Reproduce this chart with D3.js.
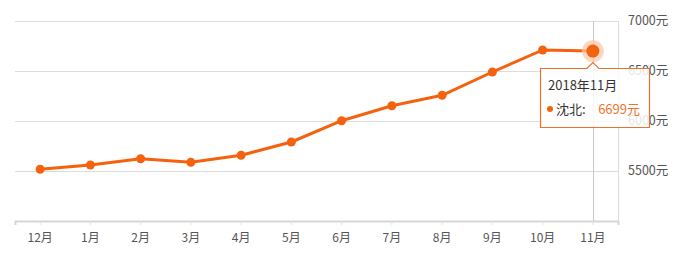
<!DOCTYPE html>
<html>
<head>
<meta charset="utf-8">
<script src="https://cdn.jsdelivr.net/npm/d3@7"></script>
<style>
body{margin:0;background:#fff;font-family:"Noto Sans CJK SC","Microsoft YaHei",sans-serif;}
</style>
</head>
<body>
<div id="chart"></div>
<script>
var months = ["12月","1月","2月","3月","4月","5月","6月","7月","8月","9月","10月","11月"];
var prices = [5517,5560,5623,5587,5657,5790,6003,6153,6257,6490,6710,6699];
var yTicks = [5500,6000,6500,7000];
var tipTitle = "2018年11月";
var tipName = "沈北";

var W = 698, H = 258;
var plotLeft = 15, plotRight = 618, plotTop = 21, plotBottom = 221;
var orange = "#f5620f";

var svg = d3.select("#chart").append("svg")
    .attr("width", W).attr("height", H);

var x = d3.scaleBand().domain(months).range([plotLeft, plotRight]).padding(0);
var y = d3.scaleLinear().domain([5000, 7000]).range([plotBottom, plotTop]);

// grid lines
svg.append("g").selectAll("line").data(yTicks).enter().append("line")
    .attr("x1", plotLeft).attr("x2", plotRight)
    .attr("y1", function(d){return Math.round(y(d))+0.5;})
    .attr("y2", function(d){return Math.round(y(d))+0.5;})
    .style("stroke", "#dcdcdc").style("stroke-width", 1);

// right border
svg.append("line")
    .attr("x1", plotRight+0.5).attr("x2", plotRight+0.5)
    .attr("y1", plotTop).attr("y2", plotBottom)
    .style("stroke", "#dcdcdc");

// y labels
svg.append("g").selectAll("text").data(yTicks).enter().append("text")
    .attr("x", 628).attr("y", function(d){return y(d);})
    .attr("dy", "0.35em")
    .style("font-size", "12.5px").style("fill", "#555")
    .text(function(d){return d + "元";});

// x axis
var xAxis = svg.append("g")
    .attr("transform", "translate(0," + plotBottom + ")")
    .call(d3.axisBottom(x).tickSize(4).tickPadding(8));
xAxis.select(".domain").style("stroke", "#d6d6d6").style("stroke-width", 2);
xAxis.selectAll(".tick line").style("stroke", "#e0e0e0");
xAxis.selectAll(".tick text")
    .style("font-size", "12px").style("fill", "#555")
    .style("font-family", "'Noto Sans CJK SC',sans-serif");

// crosshair
var last = months.length - 1;
var cx = x(months[last]) + x.bandwidth()/2;
svg.append("line")
    .attr("x1", Math.round(cx)+0.5).attr("x2", Math.round(cx)+0.5)
    .attr("y1", plotTop).attr("y2", plotBottom)
    .style("stroke", "#c8c8c8");

var line = d3.line()
    .x(function(d, i){return x(months[i]) + x.bandwidth()/2;})
    .y(function(d){return y(d);});

svg.append("path").datum(prices)
    .attr("d", line)
    .style("fill", "none").style("stroke", orange).style("stroke-width", 3)
    .style("stroke-linejoin", "round");

svg.append("g").selectAll("circle").data(prices).enter().append("circle")
    .attr("cx", function(d, i){return x(months[i]) + x.bandwidth()/2;})
    .attr("cy", function(d){return y(d);})
    .attr("r", 4.5)
    .style("fill", orange);

// highlighted point
svg.append("circle")
    .attr("cx", cx).attr("cy", y(prices[last])).attr("r", 11)
    .style("fill", "#fbc7a6").style("opacity", 0.7);
svg.append("circle")
    .attr("cx", cx).attr("cy", y(prices[last])).attr("r", 6.5)
    .style("fill", orange);

// tooltip
var tx = 540, ty = 68, tw = 109, th = 59;
var tip = svg.append("g");
tip.append("path")
    .attr("d", "M" + (tx+0.5) + "," + (ty+0.5) +
        " L" + (cx-6) + "," + (ty+0.5) +
        " L" + cx + "," + (ty-5.5) +
        " L" + (cx+6) + "," + (ty+0.5) +
        " L" + (tx+tw+0.5) + "," + (ty+0.5) +
        " L" + (tx+tw+0.5) + "," + (ty+th+0.5) +
        " L" + (tx+0.5) + "," + (ty+th+0.5) + " Z")
    .style("fill", "rgba(255,255,255,0.85)")
    .style("stroke", "#e8732e").style("stroke-width", 1.2);
tip.append("text")
    .attr("x", 548).attr("y", 90)
    .style("font-size", "13px").style("fill", "#333")
    .text(tipTitle);
tip.append("circle")
    .attr("cx", 550).attr("cy", 109).attr("r", 3)
    .style("fill", orange);
tip.append("text")
    .attr("x", 556).attr("y", 114)
    .style("font-size", "13px").style("fill", "#333")
    .text(tipName + ":");
tip.append("text")
    .attr("x", 640).attr("y", 114)
    .attr("text-anchor", "end")
    .style("font-size", "13px").style("fill", "#f0732a")
    .text(prices[last] + "元");
</script>
</body>
</html>
